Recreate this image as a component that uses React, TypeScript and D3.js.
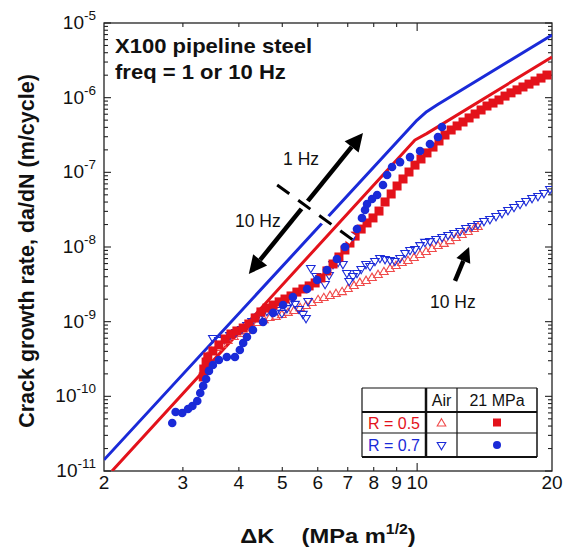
import React, { useEffect, useRef } from "react";
import * as d3 from "d3";

// R = 0.5, 21 MPa H2 (filled squares)
const redSqK = [3.33, 3.34, 3.38, 3.41, 3.5, 3.61, 3.73, 3.84, 3.96, 4.09, 4.21, 4.35, 4.48, 4.62, 4.77, 4.92, 5.07, 5.23, 5.39, 5.56, 5.74, 5.92, 6.1, 6.29, 6.49, 6.69, 6.9, 7.08, 7.27, 7.5, 7.73, 7.97, 8.22, 8.48, 8.75, 9.02, 9.3, 9.59, 9.89, 10.2, 10.52, 10.85, 11.19, 11.54, 11.91, 12.28, 12.66, 13.06, 13.47, 13.89, 14.32, 14.77, 15.23, 15.71, 16.2, 16.71, 17.23, 17.77, 18.33, 18.9, 19.49];
const redSqRate = [1.82e-10, 2.32e-10, 2.88e-10, 3.37e-10, 4.05e-10, 4.88e-10, 5.86e-10, 6.84e-10, 7.5e-10, 8.22e-10, 9.31e-10, 1.12e-9, 1.35e-9, 1.52e-9, 1.67e-9, 1.84e-9, 2.01e-9, 2.21e-9, 2.49e-9, 2.74e-9, 3.01e-9, 3.3e-9, 3.85e-9, 4.78e-9, 5.92e-9, 7.35e-9, 9.12e-9, 1.13e-8, 1.4e-8, 1.74e-8, 2.1e-8, 2.45e-8, 3.03e-8, 4.01e-8, 5.13e-8, 6.56e-8, 8.15e-8, 1.01e-7, 1.25e-7, 1.51e-7, 1.82e-7, 2.18e-7, 2.63e-7, 3.16e-7, 3.69e-7, 4.18e-7, 4.72e-7, 5.35e-7, 6.04e-7, 6.84e-7, 7.73e-7, 8.47e-7, 9.31e-7, 1.05e-6, 1.16e-6, 1.27e-6, 1.39e-6, 1.52e-6, 1.67e-6, 1.83e-6, 2.01e-6];

// R = 0.7, 21 MPa H2 (filled circles)
const blueCircK = [2.84, 2.89, 2.99, 3.08, 3.15, 3.23, 3.28, 3.33, 3.38, 3.43, 3.5, 3.61, 3.76, 3.92, 4.02, 4.09, 4.17, 4.3, 4.53, 4.77, 5.02, 5.28, 5.68, 5.98, 6.29, 6.62, 6.9, 7.12, 7.34, 7.53, 7.65, 7.73, 7.93, 8.14, 8.39, 8.57, 8.79, 9.16, 9.64, 10.15, 10.68, 11.13, 11.36];
const blueCircRate = [4.4e-11, 6.17e-11, 5.98e-11, 6.77e-11, 7.43e-11, 8.67e-11, 1.11e-10, 1.38e-10, 1.71e-10, 2.19e-10, 2.63e-10, 3.07e-10, 3.37e-10, 3.37e-10, 4.18e-10, 5.18e-10, 6.24e-10, 7.74e-10, 9.9e-10, 1.31e-9, 1.67e-9, 2.14e-9, 2.74e-9, 3.61e-9, 4.92e-9, 6.9e-9, 1.0e-8, 1.36e-8, 1.74e-8, 2.45e-8, 3.13e-8, 3.77e-8, 4.4e-8, 4.97e-8, 6.76e-8, 9.2e-8, 1.18e-7, 1.37e-7, 1.6e-7, 1.93e-7, 2.4e-7, 2.97e-7, 4.05e-7];

// R = 0.5, air (open up triangles)
const redTriK = [3.4, 3.48, 3.58, 3.67, 3.78, 3.9, 4.02, 4.15, 4.28, 4.41, 4.55, 4.69, 4.84, 4.99, 5.15, 5.31, 5.48, 5.65, 5.82, 6.01, 6.19, 6.39, 6.59, 6.8, 7.01, 7.23, 7.45, 7.69, 7.93, 8.18, 8.43, 8.7, 8.97, 9.25, 9.54, 9.84, 10.15, 10.47, 10.79, 11.13, 11.48, 11.84, 12.21, 12.59, 12.99, 13.4, 13.67];
const redTriRate = [3.37e-10, 3.93e-10, 4.44e-10, 4.88e-10, 5.51e-10, 6.24e-10, 6.84e-10, 7.5e-10, 8.49e-10, 9.59e-10, 1.05e-9, 1.12e-9, 1.16e-9, 1.23e-9, 1.31e-9, 1.39e-9, 1.52e-9, 1.62e-9, 1.78e-9, 1.95e-9, 2.07e-9, 2.21e-9, 2.35e-9, 2.49e-9, 2.74e-9, 3.01e-9, 3.3e-9, 3.51e-9, 3.85e-9, 4.22e-9, 4.62e-9, 5.08e-9, 5.57e-9, 6.11e-9, 6.5e-9, 7.13e-9, 7.82e-9, 8.57e-9, 9.4e-9, 1.03e-8, 1.1e-8, 1.2e-8, 1.32e-8, 1.45e-8, 1.59e-8, 1.74e-8, 1.85e-8];

// R = 0.7, air (open down triangles)
const blueTriK = [3.5, 3.61, 3.71, 3.82, 3.94, 4.06, 4.17, 4.28, 4.39, 4.51, 4.62, 4.74, 4.87, 4.99, 5.12, 5.23, 5.34, 5.45, 5.56, 5.65, 5.71, 5.79, 5.95, 6.07, 6.23, 6.36, 6.49, 6.66, 6.83, 6.97, 7.05, 7.19, 7.34, 7.5, 7.69, 7.85, 8.05, 8.26, 8.48, 8.7, 8.92, 9.16, 9.4, 9.64, 9.89, 10.15, 10.41, 10.68, 11.02, 11.37, 11.72, 12.09, 12.47, 12.85, 13.26, 13.67, 14.1, 14.54, 15.0, 15.47, 15.95, 16.45, 16.97, 17.5, 18.05, 18.61, 19.19, 19.79];
const blueTriRate = [6.04e-10, 5.69e-10, 6.04e-10, 6.64e-10, 7.28e-10, 7.98e-10, 9.04e-10, 1.02e-9, 1.16e-9, 1.31e-9, 1.39e-9, 1.35e-9, 1.43e-9, 1.31e-9, 1.52e-9, 1.89e-9, 1.73e-9, 1.48e-9, 1.27e-9, 1.12e-9, 1.89e-9, 5.24e-9, 4.09e-9, 3.85e-9, 3.2e-9, 4.22e-9, 5.92e-9, 6.3e-9, 5.92e-9, 4.49e-9, 3.51e-9, 4.09e-9, 4.49e-9, 5.08e-9, 5.92e-9, 5.57e-9, 6.5e-9, 7.13e-9, 6.9e-9, 6.7e-9, 6.5e-9, 7.13e-9, 8.32e-9, 9.12e-9, 9.4e-9, 1.06e-8, 1.17e-8, 1.2e-8, 1.28e-8, 1.36e-8, 1.45e-8, 1.54e-8, 1.64e-8, 1.8e-8, 1.91e-8, 2.03e-8, 2.23e-8, 2.37e-8, 2.6e-8, 2.85e-8, 3.13e-8, 3.44e-8, 3.77e-8, 4.13e-8, 4.53e-8, 4.82e-8, 5.28e-8, 5.98e-8];

// model curves
const blueLineK = [2, 10, 10.5, 11.07, 20];
const blueLineRate = [1.41e-11, 5.02e-7, 6.5e-7, 7.98e-7, 6.9e-6];
const redLineK = [2.084, 9.89, 10.5, 20];
const redLineRate = [1e-11, 2.71e-7, 3.3e-7, 3.51e-6];

const xTickLabels = [2, 3, 4, 5, 6, 7, 8, 9, 10, 20];
const yDecades = [-11, -10, -9, -8, -7, -6, -5];

const RED = "#e3121b";
const BLUE = "#1a2ad8";
const RED_OPEN = "#f04a4a";
const FONT = "'Liberation Sans', Arial, sans-serif";

const App = () => {
  const ref = useRef<SVGSVGElement>(null);

  useEffect(() => {
    const width = 563;
    const height = 550;
    const marginTop = 23;
    const marginRight = 11;
    const marginBottom = 79;
    const marginLeft = 104;

    const x = d3.scaleLog().domain([2, 20]).range([marginLeft, width - marginRight]);
    const y = d3.scaleLog().domain([1e-11, 1e-5]).range([height - marginBottom, marginTop]);
    const x0 = marginLeft, x1 = width - marginRight, y0 = height - marginBottom, y1 = marginTop;

    const svg = d3.select(ref.current);
    svg.selectAll("*").remove();

    svg.append("defs").append("clipPath").attr("id", "plot-clip")
      .append("rect").attr("x", x0).attr("y", y1).attr("width", x1 - x0).attr("height", y0 - y1);

    // frame
    svg.append("rect")
      .attr("x", x0).attr("y", y1).attr("width", x1 - x0).attr("height", y0 - y1)
      .attr("fill", "none").attr("stroke", "#222").attr("stroke-width", 1.3);

    // y ticks (left + right, inward)
    const yt = svg.append("g").attr("stroke", "#222").attr("stroke-width", 1.1);
    yDecades.forEach((d) => {
      for (let k = 1; k <= 9; k++) {
        const v = k * Math.pow(10, d);
        if (v > 1e-5 * 1.0001) continue;
        const len = k === 1 ? 7 : 4;
        const py = y(v);
        yt.append("line").attr("x1", x0).attr("x2", x0 + len).attr("y1", py).attr("y2", py);
        yt.append("line").attr("x1", x1).attr("x2", x1 - len).attr("y1", py).attr("y2", py);
      }
    });
    // x ticks (bottom + top, inward)
    const xt = svg.append("g").attr("stroke", "#222").attr("stroke-width", 1.1);
    [3, 4, 5, 6, 7, 8, 9, 10].forEach((v) => {
      const len = v === 10 ? 8 : 4;
      const px = x(v);
      xt.append("line").attr("x1", px).attr("x2", px).attr("y1", y0).attr("y2", y0 - len);
      xt.append("line").attr("x1", px).attr("x2", px).attr("y1", y1).attr("y2", y1 + len);
    });

    // y tick labels
    yDecades.forEach((d) => {
      const t = svg.append("text")
        .attr("x", 96).attr("y", y(Math.pow(10, d)) + 6)
        .attr("text-anchor", "end").attr("font-family", FONT).attr("font-size", 19).attr("fill", "#111");
      t.append("tspan").text("10");
      t.append("tspan").attr("dy", -9).attr("font-size", 13.5).text(String(d));
    });

    // x tick labels
    svg.append("g").selectAll("text").data(xTickLabels).join("text")
      .attr("x", (d) => x(d)).attr("y", 489)
      .attr("text-anchor", "middle").attr("font-family", FONT).attr("font-size", 19).attr("fill", "#111")
      .text((d) => d);

    // axis titles
    const xl = svg.append("text")
      .attr("transform", `translate(${(x0 + x1) / 2},543) scale(1.13,1)`)
      .attr("text-anchor", "middle").attr("font-family", FONT).attr("font-size", 21)
      .attr("font-weight", "bold").attr("fill", "#111");
    xl.append("tspan").text("\u0394K");
    xl.append("tspan").attr("dx", 24).text("(MPa m");
    xl.append("tspan").attr("dy", -9).attr("font-size", 14).text("1/2");
    xl.append("tspan").attr("dy", 9).text(")");

    svg.append("text")
      .attr("transform", `translate(34,${(y0 + y1) / 2 + 4}) rotate(-90)`)
      .attr("text-anchor", "middle").attr("font-family", FONT).attr("font-size", 21.5)
      .attr("font-weight", "bold").attr("fill", "#111")
      .text("Crack growth rate, da/dN (m/cycle)");

    // title inside the plot
    svg.append("text").attr("transform", `translate(${x0 + 11},${y1 + 30}) scale(1.05,1)`)
      .attr("font-family", FONT).attr("font-size", 21).attr("font-weight", "bold").attr("fill", "#111")
      .text("X100 pipeline steel");
    svg.append("text").attr("transform", `translate(${x0 + 11},${y1 + 56}) scale(1.05,1)`)
      .attr("font-family", FONT).attr("font-size", 21).attr("font-weight", "bold").attr("fill", "#111")
      .text("freq = 1 or 10 Hz");

    const plot = svg.append("g").attr("clip-path", "url(#plot-clip)");

    const line = d3.line<[number, number]>().x((d) => x(d[0])).y((d) => y(d[1]));
    plot.append("path").datum(d3.zip(redLineK, redLineRate) as [number, number][])
      .attr("fill", "none").attr("stroke", RED).attr("stroke-width", 3)
      .attr("stroke-linejoin", "round").attr("d", line);
    plot.append("path").datum(d3.zip(blueLineK, blueLineRate) as [number, number][])
      .attr("fill", "none").attr("stroke", BLUE).attr("stroke-width", 3)
      .attr("stroke-linejoin", "round").attr("d", line);

    const triUp = "M0,-4.8L4.3,2.5L-4.3,2.5Z";
    const triDown = "M0,4.8L4.3,-2.5L-4.3,-2.5Z";

    plot.append("g").selectAll("path").data(d3.zip(redTriK, redTriRate)).join("path")
      .attr("transform", (d) => `translate(${x(d[0])},${y(d[1])})`)
      .attr("d", triUp).attr("fill", "none").attr("stroke", RED_OPEN).attr("stroke-width", 1.1);

    plot.append("g").selectAll("path").data(d3.zip(blueTriK, blueTriRate)).join("path")
      .attr("transform", (d) => `translate(${x(d[0])},${y(d[1])})`)
      .attr("d", triDown).attr("fill", "none").attr("stroke", BLUE).attr("stroke-width", 1.1);

    plot.append("g").selectAll("rect").data(d3.zip(redSqK, redSqRate)).join("rect")
      .attr("x", (d) => x(d[0]) - 4.5).attr("y", (d) => y(d[1]) - 4.5)
      .attr("width", 9).attr("height", 9).attr("fill", RED);

    plot.append("g").selectAll("circle").data(d3.zip(blueCircK, blueCircRate)).join("circle")
      .attr("cx", (d) => x(d[0])).attr("cy", (d) => y(d[1])).attr("r", 4.3).attr("fill", BLUE);

    // annotations
    const ann = svg.append("g");
    const head = (ax: number, ay: number, bx: number, by: number, L: number, W: number) => {
      const a = Math.atan2(by - ay, bx - ax);
      const c = Math.cos(a), s = Math.sin(a);
      const baseX = bx - L * c, baseY = by - L * s;
      ann.append("path")
        .attr("d", `M${bx},${by}L${baseX - W * s},${baseY + W * c}L${baseX + W * s},${baseY - W * c}Z`)
        .attr("fill", "#000");
      return [baseX, baseY];
    };

    const ax0 = x(4.21), ay0 = y(4.36e-9), ax1 = x(7.57), ay1 = y(3.37e-7);
    const hb1 = head(ax0, ay0, ax1, ay1, 18, 9);
    const hb0 = head(ax1, ay1, ax0, ay0, 18, 9);
    ann.append("line").attr("x1", hb0[0]).attr("y1", hb0[1]).attr("x2", hb1[0]).attr("y2", hb1[1])
      .attr("stroke", "#000").attr("stroke-width", 4.5);

    const dx0 = x(4.87), dy0 = y(6.76e-8), dx1 = x(7.19), dy1 = y(1.24e-8);
    ann.append("line").attr("x1", dx0).attr("y1", dy0).attr("x2", dx1).attr("y2", dy1)
      .attr("stroke", "#fff").attr("stroke-width", 10).attr("stroke-dasharray", "15 11");
    ann.append("line").attr("x1", dx0).attr("y1", dy0).attr("x2", dx1).attr("y2", dy1)
      .attr("stroke", "#000").attr("stroke-width", 3).attr("stroke-dasharray", "15 11");

    const sx0 = x(12.15), sy0 = y(3.51e-9), sx1 = x(13.06), sy1 = y(1e-8);
    const sb = head(sx0, sy0, sx1, sy1, 15, 7.5);
    ann.append("line").attr("x1", sx0).attr("y1", sy0).attr("x2", sb[0]).attr("y2", sb[1])
      .attr("stroke", "#000").attr("stroke-width", 4.5);

    const label = (k: number, r: number, txt: string) =>
      ann.append("text").attr("x", x(k)).attr("y", y(r))
        .attr("font-family", FONT).attr("font-size", 17.5).attr("fill", "#111").text(txt);
    label(5.02, 1.25e-7, "1 Hz");
    label(3.92, 1.85e-8, "10 Hz");
    label(10.68, 1.52e-9, "10 Hz");

    // legend table
    const lg = svg.append("g");
    const L0 = 362, C1 = 426, C2 = 457, R0 = 537;
    const T0 = 388, T1 = 412, T2 = 433, T3 = 457;
    lg.append("rect").attr("x", L0).attr("y", T0).attr("width", R0 - L0).attr("height", T3 - T0)
      .attr("fill", "#fff").attr("stroke", "none");
    const hl = (yy: number, w: number) =>
      lg.append("line").attr("x1", L0).attr("x2", R0).attr("y1", yy).attr("y2", yy)
        .attr("stroke", "#111").attr("stroke-width", w);
    const vl = (xx: number, w: number) =>
      lg.append("line").attr("x1", xx).attr("x2", xx).attr("y1", T0).attr("y2", T3)
        .attr("stroke", "#111").attr("stroke-width", w);
    hl(T0, 1.2); hl(T1, 2); hl(T2, 1.2); hl(T3, 2);
    vl(L0, 1.2); vl(C1, 2.5); vl(C2, 1.2); vl(R0, 1.5);
    const lt = (xx: number, yy: number, txt: string, col: string, anchor: string) =>
      lg.append("text").attr("x", xx).attr("y", yy).attr("text-anchor", anchor)
        .attr("font-family", FONT).attr("font-size", 16).attr("fill", col).text(txt);
    lt((C1 + C2) / 2, 406, "Air", "#111", "middle");
    lt((C2 + R0) / 2, 406, "21 MPa", "#111", "middle");
    lt(C1 - 6, 428.5, "R = 0.5", RED, "end");
    lt(C1 - 6, 451, "R = 0.7", BLUE, "end");
    lg.append("path").attr("transform", `translate(${(C1 + C2) / 2},${(T1 + T2) / 2 + 1})`)
      .attr("d", triUp).attr("fill", "none").attr("stroke", RED_OPEN).attr("stroke-width", 1.1);
    lg.append("path").attr("transform", `translate(${(C1 + C2) / 2},${(T2 + T3) / 2})`)
      .attr("d", triDown).attr("fill", "none").attr("stroke", BLUE).attr("stroke-width", 1.1);
    lg.append("rect").attr("x", (C2 + R0) / 2 - 4).attr("y", (T1 + T2) / 2 - 4)
      .attr("width", 8).attr("height", 8).attr("fill", RED);
    lg.append("circle").attr("cx", (C2 + R0) / 2).attr("cy", (T2 + T3) / 2).attr("r", 4).attr("fill", BLUE);
  }, []);

  return (
    <svg
      ref={ref}
      width={563}
      height={550}
      style={{ position: "absolute", left: 0, top: 0, background: "#fff" }}
    />
  );
};

export default App;
